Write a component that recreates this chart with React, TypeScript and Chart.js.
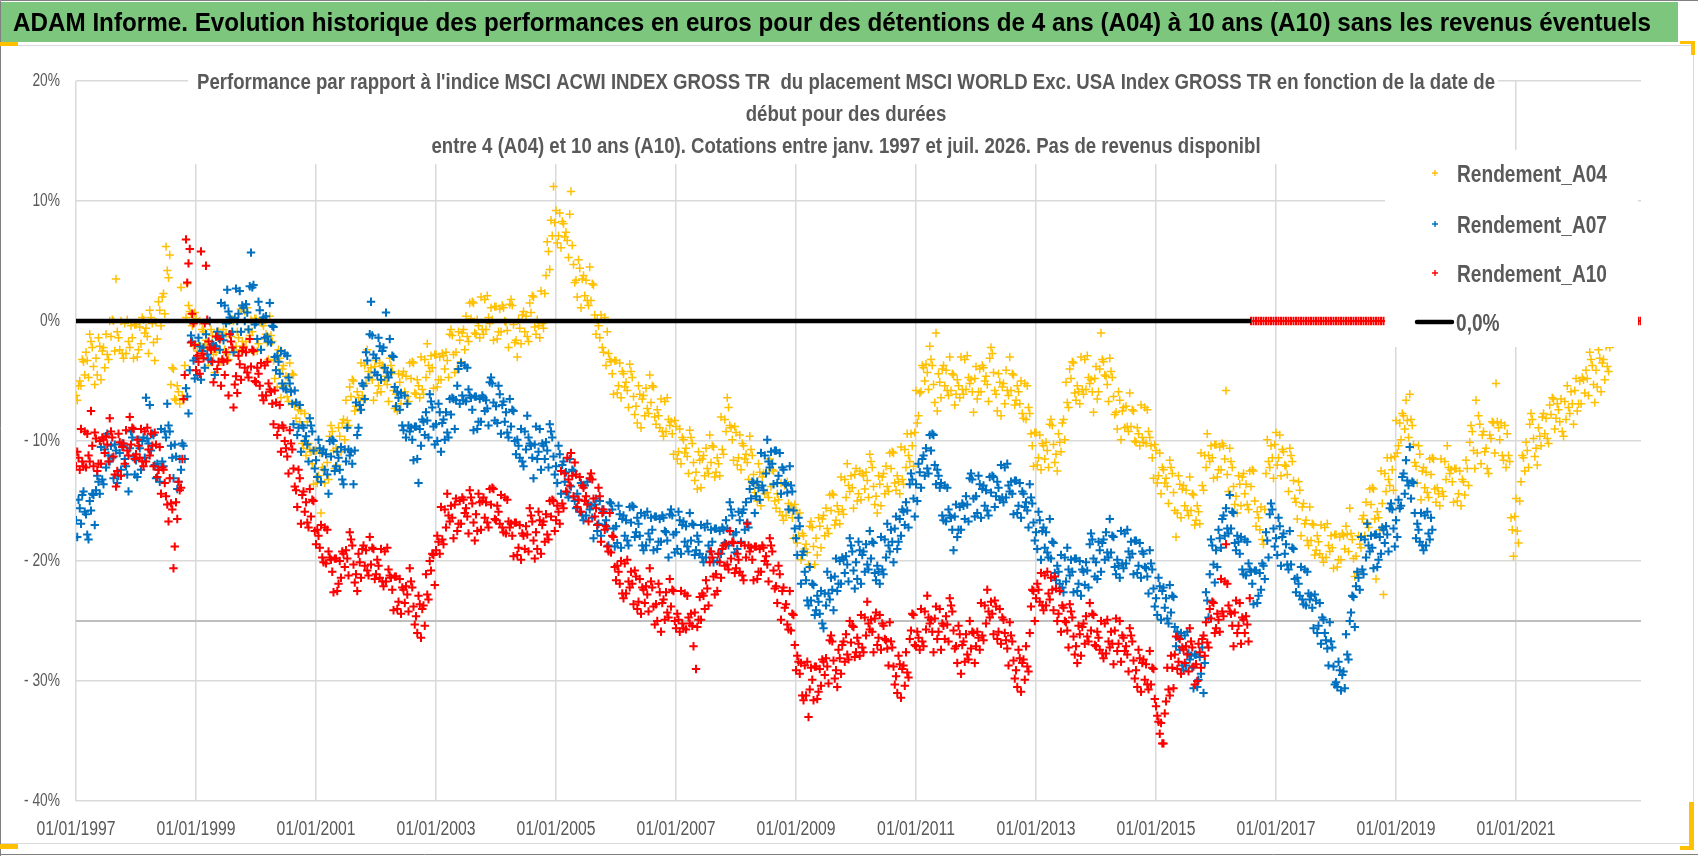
import { useEffect, useRef } from 'react';
import { Chart, registerables } from 'chart.js';

Chart.register(...registerables);

// quotations on a half-month grid from 01/01/1997, plus the in-between quotations
const debut = 1997;
const pas = 1 / 24;

// Rendement_A04, 1st and 16th of each month (one row per year)
const rendementA04: number[][] = [
  [-6.2, -5.4, -5.4, -3.4, -2.6, -4.7, -1.7, -3.8, -3.1, -1.4, -4.9, -2.2, -1.1, -3.2, -1.3, 0.0, 3.5, -1.4, 0.0, -3.1, -2.7, -1.7, -0.4, -3.1],
  [-0.3, -2.4, -1.9, 0.1, -0.6, -2.7, 0.3, -1.8, -0.1, 1.6, -0.4, 2.3, 6.2, 3.6, -5.3, -4.0, -6.6, -5.9, 2.8, -6.6, 0.3, 1.3, 0.6, -2.1],
  [0.2, -1.9, -2.9, -0.9, -1.6, -3.7, -0.7, -2.8, -2.6, -0.9, -3.4, -0.7, -1.1, -3.2, -1.3, 0.0, -2.1, -1.4, 1.0, -2.1, -1.7, -0.7, 0.1, -2.6],
  [0.2, -1.9, -2.4, -0.4, -1.1, -3.2, -1.2, -3.3, -4.1, -2.4, -6.4, -3.7, -4.6, -6.7, -5.8, -4.5, -8.1, -7.4, -7.5, -10.6, -11.2, -10.2, -10.9, -13.6],
  [-10.8, -12.9, -16.0, -12.4, -11.1, -13.2, -8.7, -10.8, -10.6, -8.9, -10.9, -8.2, -6.6, -8.7, -6.3, -5.0, -7.1, -6.4, -3.5, -6.6, -5.2, -4.2, -3.9, -6.6],
  [-3.3, -5.4, -5.9, -3.9, -4.6, -6.7, -3.7, -5.8, -6.1, -4.4, -6.9, -4.2, -4.6, -6.7, -4.8, -3.5, -6.1, -5.4, -3.0, -6.1, -4.7, -3.7, -2.9, -5.6],
  [-2.8, -4.9, -4.9, -2.9, -2.6, -4.7, -0.7, -2.8, -2.6, -0.9, -3.4, -0.7, 0.4, -1.7, 0.2, 1.5, -1.1, -0.4, 2.0, -1.1, -0.7, 0.3, 1.1, -1.6],
  [1.2, -0.9, -0.9, 1.1, -0.1, -2.2, 1.8, -0.3, -1.6, 0.1, -1.9, 0.8, 0.4, -1.7, 0.7, 2.0, -1.1, -0.4, 2.5, -0.6, 3.8, 5.8, 8.4, 11.2],
  [9.2, 7.1, 6.1, 8.1, 7.4, 5.3, 10.8, 4.7, 3.4, 5.1, 1.1, 3.8, 3.4, 1.3, 1.7, 3.0, -1.1, -0.4, 0.5, -2.6, -3.7, -2.7, -3.4, -6.1],
  [-3.3, -5.4, -6.4, -4.4, -5.1, -7.2, -4.2, -6.3, -7.1, -5.4, -8.9, -6.2, -5.6, -7.7, -6.8, -5.5, -8.6, -7.9, -6.5, -9.6, -9.2, -8.2, -8.4, -11.1],
  [-8.8, -10.9, -11.9, -9.9, -10.6, -12.7, -9.7, -11.8, -12.6, -10.9, -13.9, -11.2, -10.6, -12.7, -11.8, -10.5, -12.6, -11.9, -8.0, -11.1, -9.2, -7.2, -8.9, -11.6],
  [-9.3, -11.4, -12.4, -10.4, -11.1, -13.2, -10.7, -12.8, -13.6, -11.9, -15.4, -12.7, -12.6, -14.7, -13.8, -12.5, -15.6, -14.9, -13.5, -16.6, -16.2, -15.2, -15.4, -18.1],
  [-15.8, -17.9, -19.9, -17.9, -18.6, -20.3, -16.7, -18.8, -18.1, -16.4, -18.9, -16.2, -15.6, -17.7, -15.8, -14.5, -16.6, -15.9, -13.0, -16.1, -14.7, -13.7, -12.9, -15.6],
  [-12.3, -14.4, -14.9, -12.9, -12.6, -14.7, -11.7, -13.8, -14.6, -12.9, -15.4, -12.7, -12.1, -14.2, -12.3, -11.0, -14.1, -13.4, -10.5, -13.6, -12.2, -11.2, -9.4, -12.1],
  [-5.8, -7.9, -5.9, -3.9, -3.6, -5.7, -3.2, -5.3, -1.0, -4.4, -6.4, -3.7, -4.1, -6.2, -5.8, -4.5, -6.1, -5.4, -3.0, -6.1, -5.7, -4.7, -4.9, -7.6],
  [-3.8, -5.9, -5.9, -3.9, -4.6, -6.7, -2.2, -4.3, -6.1, -4.4, -7.9, -5.2, -4.1, -6.2, -5.8, -4.5, -6.6, -5.9, -5.0, -8.1, -8.2, -7.2, -9.4, -12.1],
  [-9.3, -11.4, -12.4, -10.4, -10.1, -12.2, -8.2, -10.3, -11.1, -9.4, -10.9, -8.2, -5.1, -7.2, -4.8, -3.5, -6.6, -5.9, -3.0, -6.1, -5.7, -4.7, -4.9, -7.6],
  [-3.8, -5.9, -1.0, -3.4, -4.6, -6.7, -4.2, -6.3, -7.6, -5.9, -9.9, -7.2, -7.1, -9.2, -8.8, -7.5, -10.1, -9.4, -7.0, -10.1, -10.2, -9.2, -10.4, -13.1],
  [-10.8, -12.9, -14.4, -12.4, -13.1, -15.2, -12.2, -14.3, -18.0, -12.9, -16.4, -13.7, -14.1, -16.2, -15.8, -14.5, -16.6, -15.9, -11.0, -14.1, -12.2, -11.2, -10.4, -13.1],
  [-10.3, -12.4, -12.4, -10.4, -5.8, -14.2, -11.7, -13.8, -14.6, -12.9, -15.4, -12.7, -13.6, -15.7, -13.8, -12.5, -17.1, -16.4, -15.5, -18.6, -12.7, -11.7, -10.4, -13.1],
  [-9.3, -11.4, -12.9, -10.9, -12.1, -14.2, -11.2, -13.3, -15.1, -13.4, -17.9, -15.2, -16.6, -18.7, -18.3, -17.0, -19.1, -18.4, -17.0, -20.1, -19.7, -18.7, -17.9, -20.6],
  [-17.8, -19.9, -19.9, -17.9, -17.1, -19.2, -17.7, -19.8, -19.6, -17.9, -18.9, -16.2, -15.1, -17.2, -15.3, -14.0, -21.5, -16.4, -12.5, -22.8, -14.2, -13.2, -11.4, -14.1],
  [-8.3, -10.4, -9.9, -7.9, -6.6, -9.7, -8.2, -10.3, -12.1, -10.4, -14.9, -12.2, -12.6, -14.7, -12.8, -11.5, -15.1, -14.4, -11.5, -14.6, -13.2, -12.2, -12.4, -15.1],
  [-12.3, -14.4, -15.4, -13.4, -11.6, -13.7, -8.7, -10.8, -6.6, -7.9, -11.9, -9.2, -10.6, -12.7, -9.8, -8.5, -5.2, -8.9, -8.5, -11.6, -12.2, -11.2, -16.4, -19.6],
  [-14.8, -18.5, -13.4, -11.4, -10.1, -12.2, -7.7, -9.8, -10.6, -8.9, -10.4, -7.7, -8.1, -10.2, -7.8, -6.5, -8.1, -7.4, -6.5, -9.6, -8.2, -7.2, -5.9, -8.6],
  [-4.8, -6.9, -6.9, -4.9, -4.1, -6.2, -3.2, -5.3, -4.1, -2.4, -5.9, -3.2, -2.1, -4.2],
];

// Rendement_A04, 8th and 23rd of each month
const rendementA04Inter: number[][] = [
  [-6.6, -5.0, -3.2, -4.5, -3.3, -1.1, -2.2, -5.3, -4.5, -2.1, -2.5, -3.9, -2.8, 0.0, 0.1, -2.5, -0.9, -2.4, -2.7, -0.2, 0.1, -2.2, -1.4, -0.3],
  [-3.0, -0.5, 0.3, -1.0, -1.3, 0.9, -0.2, -3.3, -1.5, 0.9, 2.0, 0.6, 4.2, 5.5, -3.9, -6.5, -5.4, -6.9, -6.2, -3.7, 3.1, 0.8, -0.4, 0.7],
  [-2.5, 0.0, -0.7, -2.0, -2.3, -0.1, -1.2, -4.3, -4.0, -1.6, -1.0, -2.4, -2.8, 0.0, 0.1, -2.5, -0.9, -2.4, -1.7, 0.8, 1.1, -1.2, -0.9, 0.2],
  [-2.5, 0.0, -0.2, -1.5, -1.8, 0.4, -1.7, -4.8, -5.5, -3.1, -4.0, -5.4, -6.3, -3.5, -4.4, -7.0, -6.9, -8.4, -10.2, -7.7, -8.4, -10.7, -11.9, -10.8],
  [-13.5, -11.0, -12.2, -13.5, -11.8, -9.6, -9.2, -12.3, -12.0, -9.6, -8.5, -9.9, -8.3, -5.5, -4.9, -7.5, -5.9, -7.4, -6.2, -3.7, -2.4, -4.7, -4.9, -3.8],
  [-6.0, -3.5, -3.7, -5.0, -5.3, -3.1, -4.2, -7.3, -7.5, -5.1, -4.5, -5.9, -6.3, -3.5, -3.4, -6.0, -4.9, -6.4, -5.7, -3.2, -1.9, -4.2, -3.9, -2.8],
  [-5.5, -3.0, -2.7, -4.0, -3.3, -1.1, -1.2, -4.3, -4.0, -1.6, -1.0, -2.4, -1.3, 1.5, 1.6, -1.0, 0.1, -1.4, -0.7, 1.8, 2.1, -0.2, 0.1, 1.2],
  [-1.5, 1.0, 1.3, 0.0, -0.8, 1.4, 1.3, -1.8, -3.0, -0.6, 0.5, -0.9, -1.3, 1.5, 2.1, -0.5, 0.1, -1.4, -0.2, 2.3, 6.6, 4.3, 7.1, 8.2],
  [6.5, 9.0, 8.3, 7.0, 6.7, 8.9, 6.3, 3.2, 2.0, 4.4, 3.5, 2.1, 1.7, 4.5, 3.1, 0.5, 0.1, -1.4, -2.2, 0.3, -0.9, -3.2, -4.4, -3.3],
  [-6.0, -3.5, -4.2, -5.5, -5.8, -3.6, -4.7, -7.8, -8.5, -6.1, -6.5, -7.9, -7.3, -4.5, -5.4, -8.0, -7.4, -8.9, -9.2, -6.7, -6.4, -8.7, -9.4, -8.3],
  [-11.5, -9.0, -9.7, -11.0, -11.3, -9.1, -10.2, -13.3, -14.0, -11.6, -11.5, -12.9, -12.3, -9.5, -10.4, -13.0, -11.4, -12.9, -10.7, -8.2, -6.4, -8.7, -9.9, -8.8],
  [-12.0, -9.5, -10.2, -11.5, -11.8, -9.6, -11.2, -14.3, -15.0, -12.6, -13.0, -14.4, -14.3, -11.5, -12.4, -15.0, -14.4, -15.9, -16.2, -13.7, -13.4, -15.7, -16.4, -15.3],
  [-18.5, -16.0, -17.7, -19.0, -19.3, -17.1, -17.2, -20.3, -19.5, -17.1, -16.5, -17.9, -17.3, -14.5, -14.4, -17.0, -15.4, -16.9, -15.7, -13.2, -11.9, -14.2, -13.9, -12.8],
  [-15.0, -12.5, -12.7, -14.0, -13.3, -11.1, -12.2, -15.3, -16.0, -13.6, -13.0, -14.4, -13.8, -11.0, -10.9, -13.5, -12.9, -14.4, -13.2, -10.7, -9.4, -11.7, -10.4, -9.3],
  [-8.5, -6.0, -3.7, -5.0, -4.3, -2.1, -3.7, -6.8, -7.5, -5.1, -4.0, -5.4, -5.8, -3.0, -4.4, -7.0, -4.9, -6.4, -5.7, -3.2, -2.9, -5.2, -5.9, -4.8],
  [-6.5, -4.0, -3.7, -5.0, -5.3, -3.1, -2.7, -5.8, -7.5, -5.1, -5.5, -6.9, -5.8, -3.0, -4.4, -7.0, -5.4, -6.9, -7.7, -5.2, -5.4, -7.7, -10.4, -9.3],
  [-12.0, -9.5, -10.2, -11.5, -10.8, -8.6, -8.7, -11.8, -12.5, -10.1, -8.5, -9.9, -6.8, -4.0, -3.4, -6.0, -5.4, -6.9, -5.7, -3.2, -2.9, -5.2, -5.9, -4.8],
  [-6.5, -4.0, -3.2, -4.5, -5.3, -3.1, -4.7, -7.8, -9.0, -6.6, -7.5, -8.9, -8.8, -6.0, -7.4, -10.0, -8.9, -10.4, -9.7, -7.2, -7.4, -9.7, -11.4, -10.3],
  [-13.5, -11.0, -12.2, -13.5, -13.8, -11.6, -12.7, -15.8, -16.0, -13.6, -14.0, -15.4, -15.8, -13.0, -14.4, -17.0, -15.4, -16.9, -13.7, -11.2, -9.4, -11.7, -11.4, -10.3],
  [-13.0, -10.5, -10.2, -11.5, -12.8, -10.6, -12.2, -15.3, -16.0, -13.6, -13.0, -14.4, -15.3, -12.5, -12.4, -15.0, -15.9, -17.4, -18.2, -15.7, -9.9, -12.2, -11.4, -10.3],
  [-12.0, -9.5, -10.7, -12.0, -12.8, -10.6, -11.7, -14.8, -16.5, -14.1, -15.5, -16.9, -18.3, -15.5, -16.9, -19.5, -17.9, -19.4, -19.7, -17.2, -16.9, -19.2, -18.9, -17.8],
  [-20.5, -18.0, -17.7, -19.0, -17.8, -15.6, -18.2, -21.3, -21.0, -18.6, -16.5, -17.9, -16.8, -14.0, -13.9, -16.5, -15.9, -17.4, -15.2, -12.7, -11.4, -13.7, -12.4, -11.3],
  [-11.0, -8.5, -7.7, -9.0, -8.3, -6.1, -8.7, -11.8, -13.5, -11.1, -12.5, -13.9, -14.3, -11.5, -11.4, -14.0, -13.9, -15.4, -14.2, -11.7, -10.4, -12.7, -13.4, -12.3],
  [-15.0, -12.5, -13.2, -14.5, -12.3, -10.1, -9.2, -12.3, -11.0, -8.6, -9.5, -10.9, -12.3, -9.5, -8.4, -11.0, -8.4, -9.9, -11.2, -8.7, -9.4, -11.7, -17.4, -16.3],
  [-17.5, -15.0, -11.2, -12.5, -10.8, -8.6, -8.2, -11.3, -12.0, -9.6, -8.0, -9.4, -9.8, -7.0, -6.4, -9.0, -6.9, -8.4, -9.2, -6.7, -5.4, -7.7, -6.9, -5.8],
  [-7.5, -5.0, -4.7, -6.0, -4.8, -2.6, -3.7, -6.8, -5.5, -3.1, -3.5, -4.9, -3.8, -2.2],
];

// Rendement_A07, 1st and 16th of each month
const rendementA07: number[][] = [
  [-16.6, -14.9, -16.9, -14.2, -16.1, -18.2, -15.8, -14.5, -14.1, -13.4, -10.5, -13.6, -12.2, -11.2, -10.4, -13.1, -10.8, -12.9, -12.4, -10.4, -12.1, -14.2, -9.2, -11.3],
  [-11.6, -9.9, -12.4, -9.7, -6.4, -10.2, -10.8, -9.5, -13.1, -12.4, -9.0, -12.1, -9.7, -8.7, -10.4, -13.1, -11.3, -13.4, -12.4, -10.4, -5.6, -7.7, -1.2, -3.3],
  [-3.1, -1.4, -4.9, -2.2, -1.1, -3.2, -3.3, -2.0, -2.1, -1.4, 1.5, -1.6, -0.2, 0.8, 0.1, -2.6, 2.7, 0.6, -0.9, 1.1, 1.4, -0.7, 5.7, 3.0],
  [-0.1, 1.6, -2.4, 0.3, 0.4, -1.7, -1.8, -0.5, -4.1, -3.4, -2.5, -5.6, -5.7, -4.7, -5.9, -8.6, -6.8, -8.9, -10.9, -8.9, -9.6, -11.7, -8.7, -10.8],
  [-11.6, -9.9, -13.4, -10.7, -11.1, -14.4, -11.3, -10.0, -12.1, -11.4, -10.5, -13.6, -11.7, -10.7, -10.9, -13.6, -6.8, -8.9, -7.4, -5.4, -2.6, -4.7, 1.6, -2.8],
  [-3.1, -1.4, -4.9, -2.2, 0.7, -4.7, -4.3, -3.0, -7.1, -6.4, -6.0, -9.1, -9.7, -8.7, -8.9, -11.6, -8.8, -13.5, -10.4, -8.4, -7.6, -9.7, -6.7, -8.8],
  [-8.6, -6.9, -10.9, -8.2, -7.6, -9.7, -7.8, -6.5, -6.6, -4.0, -3.5, -6.6, -6.7, -5.7, -6.4, -9.1, -6.3, -8.4, -8.4, -6.4, -6.6, -8.7, -4.7, -6.8],
  [-7.1, -5.4, -9.4, -6.7, -7.6, -9.7, -8.8, -7.5, -11.1, -10.4, -9.0, -12.1, -10.7, -9.7, -10.4, -13.1, -8.8, -10.9, -12.4, -10.4, -10.1, -12.2, -9.2, -11.3],
  [-12.1, -10.4, -14.4, -11.7, -12.6, -14.7, -13.8, -12.5, -15.6, -14.9, -13.5, -16.6, -16.2, -15.2, -15.4, -18.1, -14.8, -16.9, -17.9, -15.9, -16.6, -18.7, -15.2, -17.3],
  [-17.1, -15.4, -18.9, -16.2, -16.6, -18.7, -16.8, -15.5, -17.6, -16.9, -16.0, -19.1, -18.7, -17.7, -16.4, -19.1, -16.3, -18.4, -18.4, -16.4, -17.6, -19.7, -15.7, -17.8],
  [-17.6, -15.9, -19.4, -16.7, -17.1, -19.2, -18.3, -17.0, -19.1, -18.4, -17.0, -20.1, -19.7, -18.7, -17.4, -20.1, -17.3, -19.4, -19.4, -17.4, -16.6, -18.7, -15.7, -17.8],
  [-17.6, -15.9, -18.4, -15.7, -15.1, -17.2, -14.8, -13.5, -14.6, -13.9, -11.0, -14.1, -12.7, -11.7, -10.9, -13.6, -10.8, -12.9, -14.4, -12.4, -13.6, -15.7, -13.7, -15.8],
  [-18.1, -16.4, -21.9, -19.2, -21.6, -23.7, -23.3, -22.0, -24.1, -23.4, -22.5, -25.6, -23.7, -22.7, -21.4, -24.1, -19.8, -21.9, -21.9, -19.9, -19.6, -21.7, -18.7, -20.8],
  [-20.1, -18.4, -21.9, -19.2, -18.6, -20.7, -19.8, -18.5, -21.6, -20.9, -18.0, -21.1, -19.7, -18.7, -17.4, -20.1, -16.3, -18.4, -17.9, -15.9, -15.1, -17.2, -12.7, -14.8],
  [-13.6, -11.9, -13.9, -11.2, -10.6, -12.7, -10.8, -9.5, -13.6, -12.9, -13.5, -16.6, -16.7, -15.7, -16.4, -19.1, -15.3, -17.4, -17.4, -15.4, -14.6, -16.7, -12.7, -14.8],
  [-14.6, -12.9, -16.4, -13.7, -14.1, -16.2, -14.3, -13.0, -14.6, -13.9, -12.0, -15.1, -14.7, -13.7, -13.4, -16.1, -13.3, -15.4, -16.4, -14.4, -15.1, -17.2, -14.7, -16.8],
  [-17.6, -15.9, -19.9, -17.2, -17.6, -19.7, -19.8, -18.5, -21.6, -20.9, -19.5, -22.6, -21.7, -20.7, -19.9, -22.6, -19.8, -21.9, -22.9, -20.9, -20.1, -22.2, -17.7, -19.8],
  [-20.1, -18.4, -20.9, -18.2, -17.6, -19.7, -19.3, -18.0, -21.1, -20.4, -17.5, -20.6, -20.2, -19.2, -18.4, -21.1, -18.3, -20.4, -21.4, -19.4, -20.6, -22.7, -20.2, -22.3],
  [-23.1, -21.4, -24.9, -22.2, -23.1, -25.2, -24.3, -23.0, -27.1, -26.4, -26.0, -29.1, -28.7, -27.7, -27.9, -30.6, -27.8, -29.9, -29.4, -31.0, -22.6, -24.7, -18.2, -20.3],
  [-19.1, -17.4, -18.9, -16.2, -15.6, -17.7, -17.3, -16.0, -19.1, -18.4, -18.0, -21.1, -21.2, -20.2, -20.9, -23.6, -20.8, -22.9, -22.4, -20.4, -17.6, -19.7, -15.2, -17.3],
  [-18.1, -16.4, -20.4, -17.7, -18.6, -20.7, -20.3, -19.0, -22.6, -21.9, -20.5, -23.6, -23.7, -22.7, -22.9, -25.6, -23.3, -25.4, -26.9, -24.9, -26.6, -28.7, -26.7, -28.8],
  [-30.1, -28.4, -30.8, -29.2, -26.1, -28.2, -24.3, -23.0, -22.1, -21.4, -18.0, -21.1, -19.7, -18.7, -17.9, -20.6, -17.8, -19.9, -19.4, -17.4, -17.1, -19.2, -15.2, -17.3],
  [-16.6, -14.9, -15.4, -12.7, -11.6, -13.7, -14.8, -13.5, -18.1, -17.4, -16.0, -19.1, -18.7, -17.7, -16.4],
];

// Rendement_A07, 8th and 23rd of each month
const rendementA07Inter: number[][] = [
  [-18.0, -15.6, -14.5, -15.9, -17.8, -15.0, -14.4, -17.0, -12.9, -14.4, -13.2, -10.7, -9.4, -11.7, -11.4, -10.3, -13.5, -11.0, -10.2, -11.5, -12.8, -10.6, -9.7, -12.8],
  [-13.0, -10.6, -10.0, -11.4, -9.8, -7.0, -9.4, -12.0, -11.9, -13.4, -11.7, -9.2, -6.9, -9.2, -11.4, -10.3, -14.0, -11.5, -10.2, -11.5, -6.3, -4.1, -1.7, -4.8],
  [-4.5, -2.1, -2.5, -3.9, -2.8, 0.0, -1.9, -4.5, -0.9, -2.4, -1.2, 1.3, 2.6, 0.3, -0.9, 0.2, 0.0, 2.5, 1.3, 0.0, 0.7, 2.9, 2.8, -0.3],
  [-1.5, 0.9, 0.0, -1.4, -1.3, 1.5, -0.4, -3.0, -2.9, -4.4, -5.2, -2.7, -2.9, -5.2, -6.9, -5.8, -9.5, -7.0, -8.7, -10.0, -10.3, -8.1, -9.2, -12.3],
  [-13.0, -10.6, -11.0, -12.4, -12.8, -10.0, -9.9, -12.5, -10.9, -12.4, -13.2, -10.7, -8.9, -11.2, -11.9, -10.8, -9.5, -7.0, -5.2, -6.5, -3.3, -1.1, -1.2, -4.3],
  [-4.5, -2.1, -2.5, -3.9, -4.3, -1.5, -2.9, -5.5, -5.9, -7.4, -8.7, -6.2, -6.9, -9.2, -9.9, -8.8, -11.5, -9.0, -8.2, -9.5, -8.3, -6.1, -7.2, -10.3],
  [-10.0, -7.6, -8.5, -9.9, -9.3, -6.5, -6.4, -9.0, -5.4, -6.9, -6.2, -3.7, -3.9, -6.2, -7.4, -6.3, -9.0, -6.5, -6.2, -7.5, -7.3, -5.1, -5.2, -8.3],
  [-8.5, -6.1, -7.0, -8.4, -9.3, -6.5, -7.4, -10.0, -9.9, -11.4, -11.7, -9.2, -7.9, -10.2, -11.4, -10.3, -11.5, -9.0, -10.2, -11.5, -10.8, -8.6, -9.7, -12.8],
  [-13.5, -11.1, -12.0, -13.4, -14.3, -11.5, -12.4, -15.0, -14.4, -15.9, -16.2, -13.7, -13.4, -15.7, -16.4, -15.3, -17.5, -15.0, -15.7, -17.0, -17.3, -15.1, -15.7, -18.8],
  [-18.5, -16.1, -16.5, -17.9, -18.3, -15.5, -15.4, -18.0, -16.4, -17.9, -18.7, -16.2, -15.9, -18.2, -17.4, -16.3, -19.0, -16.5, -16.2, -17.5, -18.3, -16.1, -16.2, -19.3],
  [-19.0, -16.6, -17.0, -18.4, -18.8, -16.0, -16.9, -19.5, -17.9, -19.4, -19.7, -17.2, -16.9, -19.2, -18.4, -17.3, -20.0, -17.5, -17.2, -18.5, -17.3, -15.1, -16.2, -19.3],
  [-19.0, -16.6, -16.0, -17.4, -16.8, -14.0, -13.4, -16.0, -13.4, -14.9, -13.7, -11.2, -9.9, -12.2, -11.9, -10.8, -13.5, -11.0, -12.2, -13.5, -14.3, -12.1, -14.2, -17.3],
  [-19.5, -17.1, -19.5, -20.9, -23.3, -20.5, -21.9, -24.5, -22.9, -24.4, -25.2, -22.7, -20.9, -23.2, -22.4, -21.3, -22.5, -20.0, -19.7, -21.0, -20.3, -18.1, -19.2, -22.3],
  [-21.5, -19.1, -19.5, -20.9, -20.3, -17.5, -18.4, -21.0, -20.4, -21.9, -20.7, -18.2, -16.9, -19.2, -18.4, -17.3, -19.0, -16.5, -15.7, -17.0, -15.8, -13.6, -13.2, -16.3],
  [-15.0, -12.6, -11.5, -12.9, -12.3, -9.5, -9.4, -12.0, -12.4, -13.9, -16.2, -13.7, -13.9, -16.2, -17.4, -16.3, -18.0, -15.5, -15.2, -16.5, -15.3, -13.1, -13.2, -16.3],
  [-16.0, -13.6, -14.0, -15.4, -15.8, -13.0, -12.9, -15.5, -13.4, -14.9, -14.7, -12.2, -11.9, -14.2, -14.4, -13.3, -16.0, -13.5, -14.2, -15.5, -15.8, -13.6, -15.2, -18.3],
  [-19.0, -16.6, -17.5, -18.9, -19.3, -16.5, -18.4, -21.0, -20.4, -21.9, -22.2, -19.7, -18.9, -21.2, -20.9, -19.8, -22.5, -20.0, -20.7, -22.0, -20.8, -18.6, -18.2, -21.3],
  [-21.5, -19.1, -18.5, -19.9, -19.3, -16.5, -17.9, -20.5, -19.9, -21.4, -20.2, -17.7, -17.4, -19.7, -19.4, -18.3, -21.0, -18.5, -19.2, -20.5, -21.3, -19.1, -20.7, -23.8],
  [-24.5, -22.1, -22.5, -23.9, -24.8, -22.0, -22.9, -25.5, -25.9, -27.4, -28.7, -26.2, -25.9, -28.2, -28.9, -27.8, -30.5, -28.0, -27.2, -28.5, -23.3, -21.1, -18.7, -21.8],
  [-20.5, -18.1, -16.5, -17.9, -17.3, -14.5, -15.9, -18.5, -17.9, -19.4, -20.7, -18.2, -18.4, -20.7, -21.9, -20.8, -23.5, -21.0, -20.2, -21.5, -18.3, -16.1, -15.7, -18.8],
  [-19.5, -17.1, -18.0, -19.4, -20.3, -17.5, -18.9, -21.5, -21.4, -22.9, -23.2, -20.7, -20.9, -23.2, -23.9, -22.8, -26.0, -23.5, -24.7, -26.0, -27.3, -25.1, -27.2, -30.3],
  [-30.5, -29.1, -29.5, -30.6, -27.8, -25.0, -22.9, -25.5, -20.9, -22.4, -20.7, -18.2, -16.9, -19.2, -18.9, -17.8, -20.5, -18.0, -17.2, -18.5, -17.8, -15.6, -15.7, -18.8],
  [-18.0, -15.6, -13.0, -14.4, -13.3, -10.5, -13.4, -16.0, -16.9, -18.4, -18.7, -16.2, -15.9, -18.2, -17.4],
];

// Rendement_A10, 1st and 16th of each month (0 once no quotation is available, from Aug. 2016)
const rendementA10: number[][] = [
  [-12.1, -11.4, -9.0, -12.1, -12.2, -11.2, -7.5, -12.1, -9.8, -11.9, -11.9, -9.9, -9.6, -11.7, -9.2, -11.3, -13.8, -9.4, -12.9, -10.2, -9.1, -11.2, -10.3, -9.0],
  [-11.1, -10.4, -9.0, -12.1, -11.7, -10.7, -9.4, -12.1, -10.3, -12.4, -14.4, -12.4, -14.6, -16.7, -15.2, -20.6, -15.1, -13.4, -13.9, -6.5, 6.8, 4.8, -1.8, -0.2],
  [-4.1, -3.4, 5.8, -3.1, 4.6, -1.7, -2.4, -5.1, -1.3, -3.4, -5.4, -3.4, -2.6, -6.2, -1.7, -7.2, -4.6, -2.9, -4.9, -2.2, -2.6, -4.7, -3.8, -2.5],
  [-5.1, -4.4, -3.5, -6.6, -6.2, -5.2, -5.9, -8.6, -6.8, -8.9, -10.9, -8.9, -10.6, -12.7, -10.2, -12.3, -14.1, -12.4, -16.9, -14.2, -15.1, -17.2, -16.3, -15.0],
  [-18.6, -17.9, -17.0, -20.1, -20.2, -19.2, -19.9, -22.6, -19.8, -21.9, -21.4, -19.4, -19.1, -21.2, -18.2, -20.3, -21.1, -19.4, -21.4, -18.7, -19.1, -21.2, -20.3, -19.0],
  [-21.1, -20.4, -19.0, -22.1, -21.7, -20.7, -21.4, -24.1, -21.3, -23.4, -24.4, -22.4, -22.1, -24.2, -21.7, -23.8, -24.6, -22.9, -26.4, -23.7, -21.1, -23.2, -20.8, -19.5],
  [-19.1, -18.4, -15.5, -18.6, -17.2, -16.2, -15.4, -18.1, -14.8, -16.9, -16.9, -14.9, -15.6, -17.7, -14.7, -16.8, -16.1, -14.4, -17.4, -14.7, -15.1, -17.2, -15.3, -14.0],
  [-16.6, -15.9, -14.5, -17.6, -17.7, -16.7, -16.9, -19.6, -16.8, -18.9, -19.9, -17.9, -17.1, -19.2, -16.2, -18.3, -17.6, -15.9, -19.4, -16.7, -16.1, -18.2, -16.3, -15.0],
  [-16.6, -15.9, -12.5, -15.6, -14.2, -13.2, -11.0, -14.6, -12.8, -14.9, -15.9, -13.9, -14.6, -16.7, -12.7, -14.8, -15.6, -13.9, -18.4, -15.7, -17.1, -19.2, -19.3, -18.0],
  [-21.6, -20.9, -20.0, -23.1, -22.7, -21.7, -20.9, -23.6, -21.3, -23.4, -24.4, -22.4, -22.1, -24.2, -21.7, -23.8, -23.6, -21.9, -25.9, -23.2, -22.6, -24.7, -23.8, -22.5],
  [-25.6, -24.9, -22.5, -25.6, -25.7, -24.7, -24.4, -27.1, -29.0, -24.9, -24.9, -22.9, -21.6, -23.7, -19.2, -21.3, -21.1, -19.4, -21.4, -18.7, -18.6, -20.7, -19.8, -18.5],
  [-20.6, -19.9, -18.5, -21.6, -19.7, -18.7, -18.9, -21.6, -18.8, -20.9, -20.9, -18.9, -19.6, -21.7, -18.7, -20.8, -22.1, -20.4, -24.9, -22.2, -23.6, -25.7, -25.8, -24.5],
  [-29.1, -28.4, -28.5, -31.6, -31.2, -33.0, -28.9, -31.6, -28.8, -30.9, -30.4, -28.4, -28.1, -30.2, -26.2, -28.3, -29.1, -27.4, -29.4, -26.7, -26.1, -28.2, -26.8, -25.5],
  [-27.6, -26.9, -24.5, -27.6, -26.2, -25.2, -24.9, -27.6, -24.3, -26.4, -27.4, -25.4, -26.6, -28.7, -26.7, -28.8, -29.6, -27.9, -31.4, -28.7, -27.6, -29.7, -25.8, -24.5],
  [-27.1, -26.4, -24.0, -27.1, -25.7, -24.7, -24.9, -27.6, -23.8, -25.9, -27.4, -25.4, -24.6, -26.7, -23.7, -25.8, -27.1, -25.4, -29.4, -26.7, -26.1, -28.2, -27.3, -26.0],
  [-27.1, -26.4, -23.5, -26.6, -25.2, -24.2, -23.4, -26.1, -23.8, -25.9, -26.9, -24.9, -26.6, -28.7, -26.2, -28.3, -29.1, -27.4, -30.9, -28.2, -27.1, -29.2, -23.8, -22.5],
  [-23.1, -22.4, -21.0, -24.1, -23.7, -22.7, -21.4, -24.1, -22.3, -24.4, -25.9, -23.9, -25.1, -27.2, -24.2, -26.3, -27.1, -25.4, -27.9, -25.2, -24.6, -26.7, -25.8, -24.5],
  [-27.1, -26.4, -25.0, -28.1, -27.7, -26.7, -25.9, -28.6, -24.8, -26.9, -28.4, -26.4, -27.1, -29.2, -26.2, -28.3, -29.1, -27.4, -30.9, -28.2, -28.6, -30.7, -30.3, -29.0],
  [-32.1, -33.4, -33.5, -35.2, -31.7, -30.7, -27.9, -30.6, -26.3, -28.4, -29.4, -27.4, -27.1, -29.2, -26.7, -28.8, -28.6, -26.9, -28.9, -26.2, -25.1, -27.2, -24.8, -23.5],
  [-25.6, -24.9, -21.5, -24.6, -18.6, -23.7, -24.4, -27.1, -23.3, -25.4, -26.9, -24.9, -24.6, -26.7, 0, 0, 0, 0, 0, 0, 0, 0, 0, 0],
  [0, 0, 0, 0, 0, 0, 0, 0, 0, 0, 0, 0, 0, 0, 0, 0, 0, 0, 0, 0, 0, 0, 0, 0],
  [0, 0, 0, 0, 0, 0, 0, 0, 0, 0, 0, 0, 0, 0, 0, 0, 0, 0, 0, 0, 0, 0, 0, 0],
  [0, 0, 0, 0, 0, 0, 0, 0, 0, 0, 0, 0, 0, 0, 0, 0, 0, 0, 0, 0, 0, 0, 0, 0],
  [0, 0, 0, 0, 0, 0, 0, 0, 0, 0, 0, 0, 0, 0, 0, 0, 0, 0, 0, 0, 0, 0, 0, 0],
  [0, 0, 0, 0, 0, 0, 0, 0, 0, 0, 0, 0, 0, 0, 0, 0, 0, 0, 0, 0, 0, 0, 0, 0],
  [0, 0, 0, 0, 0, 0, 0, 0, 0, 0, 0, 0, 0, 0, 0, 0, 0, 0, 0, 0, 0, 0, 0, 0],
  [0, 0, 0],
];

// Rendement_A10, 8th and 23rd of each month
const rendementA10Inter: number[][] = [
  [-10.9, -12.4, -11.7, -9.2, -9.4, -11.7, -10.4, -9.3, -12.5, -10.0, -9.7, -11.0, -10.3, -8.1, -9.7, -12.8, -12.5, -10.1, -10.5, -11.9, -10.8, -8.0, -8.9, -11.5],
  [-9.9, -11.4, -11.7, -9.2, -8.9, -11.2, -10.4, -9.3, -13.0, -10.5, -12.2, -13.5, -15.3, -13.1, -15.7, -18.8, -16.5, -14.1, -11.5, -4.5, 3.2, 6.0, 0.6, -2.0],
  [-2.9, -4.4, -2.7, -0.2, 0.1, -2.2, -3.4, -2.3, -4.0, -1.5, -3.2, -4.5, -3.3, -1.1, -2.2, -5.3, -6.0, -3.6, -2.5, -3.9, -4.3, -1.5, -2.4, -5.0],
  [-3.9, -5.4, -6.2, -3.7, -3.4, -5.7, -6.9, -5.8, -9.5, -7.0, -8.7, -10.0, -11.3, -9.1, -10.7, -13.8, -15.5, -13.1, -14.5, -15.9, -16.8, -14.0, -14.9, -17.5],
  [-17.4, -18.9, -19.7, -17.2, -17.4, -19.7, -20.9, -19.8, -22.5, -20.0, -19.2, -20.5, -19.8, -17.6, -18.7, -21.8, -22.5, -20.1, -19.0, -20.4, -20.8, -18.0, -18.9, -21.5],
  [-19.9, -21.4, -21.7, -19.2, -18.9, -21.2, -22.4, -21.3, -24.0, -21.5, -22.2, -23.5, -22.8, -20.6, -22.2, -25.3, -26.0, -23.6, -24.0, -25.4, -22.8, -20.0, -19.4, -22.0],
  [-17.9, -19.4, -18.2, -15.7, -14.4, -16.7, -16.4, -15.3, -17.5, -15.0, -14.7, -16.0, -16.3, -14.1, -15.2, -18.3, -17.5, -15.1, -15.0, -16.4, -16.8, -14.0, -13.9, -16.5],
  [-15.4, -16.9, -17.2, -14.7, -14.9, -17.2, -17.9, -16.8, -19.5, -17.0, -17.7, -19.0, -17.8, -15.6, -16.7, -19.8, -19.0, -16.6, -17.0, -18.4, -17.8, -15.0, -14.9, -17.5],
  [-15.4, -16.9, -15.2, -12.7, -11.4, -13.7, -12.9, -11.8, -15.5, -13.0, -13.7, -15.0, -15.3, -13.1, -13.2, -16.3, -17.0, -14.6, -16.0, -17.4, -18.8, -16.0, -17.9, -20.5],
  [-20.4, -21.9, -22.7, -20.2, -19.9, -22.2, -21.9, -20.8, -24.0, -21.5, -22.2, -23.5, -22.8, -20.6, -22.2, -25.3, -25.0, -22.6, -23.5, -24.9, -24.3, -21.5, -22.4, -25.0],
  [-24.4, -25.9, -25.2, -22.7, -22.9, -25.2, -25.4, -24.3, -25.5, -23.0, -22.7, -24.0, -22.3, -20.1, -19.7, -22.8, -22.5, -20.1, -19.0, -20.4, -20.3, -17.5, -18.4, -21.0],
  [-19.4, -20.9, -21.2, -18.7, -16.9, -19.2, -19.9, -18.8, -21.5, -19.0, -18.7, -20.0, -20.3, -18.1, -19.2, -22.3, -23.5, -21.1, -22.5, -23.9, -25.3, -22.5, -24.4, -27.0],
  [-27.9, -29.4, -31.2, -28.7, -28.4, -30.7, -29.9, -28.8, -31.5, -29.0, -28.2, -29.5, -28.8, -26.6, -26.7, -29.8, -30.5, -28.1, -27.0, -28.4, -27.8, -25.0, -25.4, -28.0],
  [-26.4, -27.9, -27.2, -24.7, -23.4, -25.7, -25.9, -24.8, -27.0, -24.5, -25.2, -26.5, -27.3, -25.1, -27.2, -30.3, -31.0, -28.6, -29.0, -30.4, -29.3, -26.5, -24.4, -27.0],
  [-25.9, -27.4, -26.7, -24.2, -22.9, -25.2, -25.9, -24.8, -26.5, -24.0, -25.2, -26.5, -25.3, -23.1, -24.2, -27.3, -28.5, -26.1, -27.0, -28.4, -27.8, -25.0, -25.9, -28.5],
  [-25.9, -27.4, -26.2, -23.7, -22.4, -24.7, -24.4, -23.3, -26.5, -24.0, -24.7, -26.0, -27.3, -25.1, -26.7, -29.8, -30.5, -28.1, -28.5, -29.9, -28.8, -26.0, -22.4, -25.0],
  [-21.9, -23.4, -23.7, -21.2, -20.9, -23.2, -22.4, -21.3, -25.0, -22.5, -23.7, -25.0, -25.8, -23.6, -24.7, -27.8, -28.5, -26.1, -25.5, -26.9, -26.3, -23.5, -24.4, -27.0],
  [-25.9, -27.4, -27.7, -25.2, -24.9, -27.2, -26.9, -25.8, -27.5, -25.0, -26.2, -27.5, -27.8, -25.6, -26.7, -29.8, -30.5, -28.1, -28.5, -29.9, -30.3, -27.5, -28.9, -31.5],
  [-32.9, -34.4, -35.2, -32.7, -28.9, -31.2, -28.9, -27.8, -29.0, -26.5, -27.2, -28.5, -27.8, -25.6, -27.2, -30.3, -30.0, -27.6, -26.5, -27.9, -26.8, -24.0, -23.4, -26.0],
  [-24.4, -25.9, -24.2, -21.7, -21.9, -24.2, -25.4, -24.3, -26.0, -23.5, -24.7, -26.0, -25.3, -23.1],
];

// 0,0% reference line and the -25% marker line
const ligneZero = [{ x: 1997, y: 0 }, { x: 2016.583, y: 0 }];
const ligneMoins25 = [{ x: 1997, y: -25 }, { x: 2023.083, y: -25 }];

const xMin = 1997;
const xMax = 2023.083;
const xTicks = [1997, 1999, 2001, 2003, 2005, 2007, 2009, 2011, 2013, 2015, 2017, 2019, 2021];
const yTicks = [20, 10, 0, -10, -20, -30, -40];

const headerText =
  'ADAM Informe. Evolution historique des performances en euros pour des détentions de 4 ans (A04) à 10 ans (A10) sans les revenus éventuels';
const titleLines = [
  "Performance par rapport à l'indice MSCI ACWI INDEX GROSS TR  du placement MSCI WORLD Exc. USA Index GROSS TR en fonction de la date de",
  'début pour des durées',
  'entre 4 (A04) et 10 ans (A10). Cotations entre janv. 1997 et juil. 2026. Pas de revenus disponibl',
];
const legendItems = [
  { label: 'Rendement_A04', color: '#FFC000' },
  { label: 'Rendement_A07', color: '#0070C0' },
  { label: 'Rendement_A10', color: '#FF0000' },
];

const FONT = "'Liberation Sans Narrow', 'Arial Narrow', 'Liberation Sans', Arial, sans-serif";
const GREY_TEXT = '#595959';
const GRID = '#D9D9D9';

function toPoints(rows: number[][], decalage = 0) {
  return rows.flat().map((y, i) => ({ x: debut + (i + decalage) * pas, y }));
}

function yLabel(v: number) {
  return v < 0 ? `- ${-v}%` : `${v}%`;
}

function drawScaled(ctx: CanvasRenderingContext2D, text: string, x: number, y: number, sx: number, align: CanvasTextAlign) {
  ctx.save();
  ctx.translate(x, y);
  ctx.scale(sx, 1);
  ctx.textAlign = align;
  ctx.fillText(text, 0, 0);
  ctx.restore();
}

// page frame + green header band
const framePlugin = {
  id: 'adamFrame',
  beforeDraw(chart: Chart) {
    const { ctx, width, height } = chart;
    ctx.save();
    ctx.fillStyle = '#FFFFFF';
    ctx.fillRect(0, 0, width, height);

    ctx.fillStyle = '#7CC67E';
    ctx.fillRect(1, 2, 1677, 40);

    ctx.strokeStyle = GRID;
    ctx.lineWidth = 1;
    ctx.beginPath();
    ctx.moveTo(0, 45.5);
    ctx.lineTo(1693, 45.5);
    ctx.moveTo(1693.5, 45);
    ctx.lineTo(1693.5, 843);
    ctx.moveTo(0, 843.5);
    ctx.lineTo(1693, 843.5);
    ctx.stroke();

    ctx.strokeStyle = '#808080';
    ctx.beginPath();
    ctx.moveTo(0.5, height);
    ctx.lineTo(0.5, 0.5);
    ctx.lineTo(width, 0.5);
    ctx.moveTo(0, height - 1.5);
    ctx.lineTo(width, height - 1.5);
    ctx.stroke();

    ctx.fillStyle = '#FFC000';
    ctx.fillRect(0, 42, 18, 4);
    ctx.fillRect(0, 844, 18, 5);
    ctx.fillRect(1680, 41, 15, 3);
    ctx.fillRect(1691, 41, 4, 14);
    ctx.fillRect(1689, 802, 5, 48);
    ctx.fillRect(1680, 846, 14, 4);

    ctx.fillStyle = '#000000';
    ctx.font = `bold 26px ${FONT}`;
    ctx.textBaseline = 'alphabetic';
    const sx = 1638 / ctx.measureText(headerText).width;
    drawScaled(ctx, headerText, 832, 31, sx, 'center');
    ctx.restore();
  },
};

// title and legend sit inside the plot area on white boxes; axis labels in a narrow face
const overlayPlugin = {
  id: 'adamOverlay',
  afterDatasetsDraw(chart: Chart) {
    const { ctx } = chart;
    ctx.save();

    ctx.fillStyle = '#FFFFFF';
    ctx.fillRect(188, 62, 1310, 102);
    ctx.fillStyle = GREY_TEXT;
    ctx.font = `bold 22px ${FONT}`;
    ctx.textBaseline = 'alphabetic';
    const tsx = 1298 / ctx.measureText(titleLines[0]).width;
    const baselines = [89, 121, 153];
    titleLines.forEach((line, i) => drawScaled(ctx, line, 846, baselines[i], tsx, 'center'));

    ctx.fillStyle = '#FFFFFF';
    ctx.fillRect(1385, 150, 253, 197);
    ctx.font = `bold 23px ${FONT}`;
    const lsx = 150 / ctx.measureText('Rendement_A04').width;
    const rows = [173, 224, 273];
    legendItems.forEach((item, i) => {
      const y = rows[i];
      ctx.strokeStyle = item.color;
      ctx.lineWidth = 1.4;
      ctx.beginPath();
      ctx.moveTo(1432, y);
      ctx.lineTo(1438, y);
      ctx.moveTo(1435, y - 3);
      ctx.lineTo(1435, y + 3);
      ctx.stroke();
      ctx.fillStyle = GREY_TEXT;
      drawScaled(ctx, item.label, 1457, y + 9, lsx, 'left');
    });
    ctx.strokeStyle = '#000000';
    ctx.lineWidth = 4.5;
    ctx.lineCap = 'round';
    ctx.beginPath();
    ctx.moveTo(1417, 322);
    ctx.lineTo(1452, 322);
    ctx.stroke();
    ctx.fillStyle = GREY_TEXT;
    drawScaled(ctx, '0,0%', 1456, 331, lsx, 'left');

    ctx.restore();
  },
  afterDraw(chart: Chart) {
    const { ctx, scales } = chart;
    ctx.save();
    ctx.fillStyle = GREY_TEXT;
    ctx.textBaseline = 'middle';

    ctx.font = `20px ${FONT}`;
    const xsx = 79 / ctx.measureText('01/01/1997').width;
    xTicks.forEach((v) => drawScaled(ctx, `01/01/${v}`, scales.x.getPixelForValue(v), 829, xsx, 'center'));

    ctx.font = `18px ${FONT}`;
    const ysx = 36 / ctx.measureText('- 30%').width;
    yTicks.forEach((v) => drawScaled(ctx, yLabel(v), 60, scales.y.getPixelForValue(v), ysx, 'right'));
    ctx.restore();
  },
};

export default function App() {
  const chartRef = useRef<HTMLCanvasElement>(null);
  const chartInstance = useRef<Chart | null>(null);

  useEffect(() => {
    document.body.style.margin = '0';
    document.body.style.overflow = 'hidden';
    if (!chartRef.current) return;

    if (chartInstance.current) {
      chartInstance.current.destroy();
    }

    const ctx = chartRef.current.getContext('2d');
    if (!ctx) return;

    const crosses = (color: string, width: number) => ({
      showLine: false,
      pointStyle: 'cross' as const,
      pointRadius: 4.2,
      pointBorderWidth: width,
      borderColor: color,
      backgroundColor: color,
    });

    chartInstance.current = new Chart(ctx, {
      type: 'scatter',
      data: {
        datasets: [
          {
            label: '0,0%',
            data: ligneZero,
            showLine: true,
            borderColor: '#000000',
            borderWidth: 4.5,
            pointRadius: 0,
            order: 0,
          },
          {
            label: 'Rendement_A10',
            data: [...toPoints(rendementA10), ...toPoints(rendementA10Inter, 0.5)],
            ...crosses('#FF0000', 2),
            order: 1,
          },
          {
            label: 'Rendement_A07',
            data: [...toPoints(rendementA07), ...toPoints(rendementA07Inter, 0.5)],
            ...crosses('#0070C0', 2),
            order: 2,
          },
          {
            label: 'Rendement_A04',
            data: [...toPoints(rendementA04), ...toPoints(rendementA04Inter, 0.5)],
            ...crosses('#FFC000', 1.5),
            order: 3,
          },
          {
            label: '-25%',
            data: ligneMoins25,
            showLine: true,
            borderColor: '#BFBFBF',
            borderWidth: 1.8,
            pointRadius: 0,
            order: 4,
          },
        ],
      },
      options: {
        animation: false,
        responsive: false,
        events: [],
        layout: { padding: { left: 0, top: 81, right: 57, bottom: 0 } },
        plugins: {
          legend: { display: false },
          tooltip: { enabled: false },
        },
        scales: {
          x: {
            type: 'linear',
            min: xMin,
            max: xMax,
            afterBuildTicks: (scale) => {
              scale.ticks = xTicks.map((value) => ({ value }));
            },
            afterFit: (scale) => {
              scale.height = 55;
            },
            grid: { color: GRID, lineWidth: 1.5, drawTicks: false },
            border: { display: false },
            ticks: { display: false },
          },
          y: {
            min: -40,
            max: 20,
            afterBuildTicks: (scale) => {
              scale.ticks = yTicks.map((value) => ({ value }));
            },
            afterFit: (scale) => {
              scale.width = 76;
            },
            grid: { color: GRID, lineWidth: 1.5, drawTicks: false },
            border: { display: false },
            ticks: { display: false },
          },
        },
      },
      plugins: [framePlugin, overlayPlugin],
    });

    return () => {
      if (chartInstance.current) {
        chartInstance.current.destroy();
        chartInstance.current = null;
      }
    };
  }, []);

  return (
    <div style={{ position: 'relative', width: 1698, height: 856 }}>
      <canvas ref={chartRef} width={1698} height={856} />
    </div>
  );
}
